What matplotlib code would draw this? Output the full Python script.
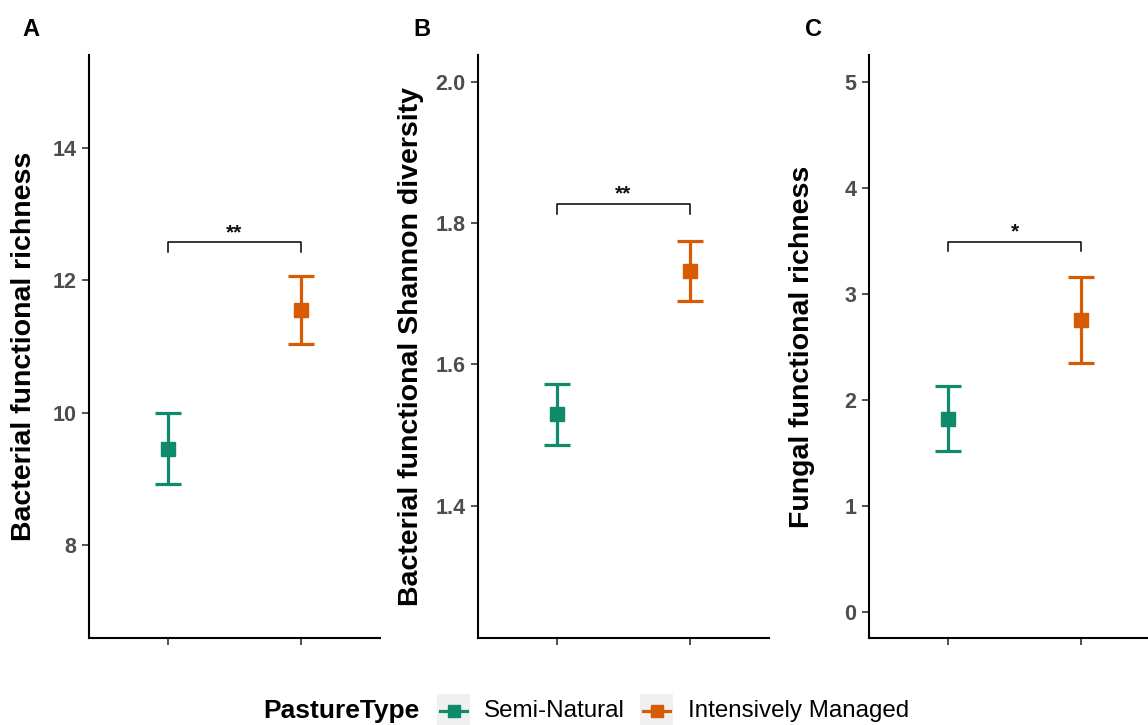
import matplotlib
matplotlib.use("Agg")
import matplotlib.pyplot as plt
from matplotlib.lines import Line2D
from matplotlib.patches import Rectangle

plt.rcParams['font.family'] = ['Liberation Sans', 'DejaVu Sans']

# ---------------- data ----------------
categories = ["Semi-Natural", "Intensively Managed"]
colors = ["#0F8B6B", "#D65B02"]

panel_letters = ["A", "B", "C"]
ylabels = ["Bacterial functional richness",
           "Bacterial functional Shannon diversity",
           "Fungal functional richness"]

a_mean = [9.46, 11.55]
a_low = [8.93, 11.04]
a_high = [9.99, 12.06]

b_mean = [1.529, 1.732]
b_low = [1.486, 1.690]
b_high = [1.572, 1.775]

c_mean = [1.82, 2.75]
c_low = [1.51, 2.34]
c_high = [2.13, 3.16]

a_ticks = [8, 10, 12, 14]
b_ticks = [1.4, 1.6, 1.8, 2.0]
c_ticks = [0, 1, 2, 3, 4, 5]
a_ticklabels = ["8", "10", "12", "14"]
b_ticklabels = ["1.4", "1.6", "1.8", "2.0"]
c_ticklabels = ["0", "1", "2", "3", "4", "5"]

a_lim = [7, 15]
b_lim = [1.25, 2.0]
c_lim = [0, 5]

sig_labels = ["**", "**", "*"]
sig_y = [12.57, 1.827, 3.49]
sig_tip = [12.42, 1.813, 3.40]

# ---------------- figure ----------------
W, H = 1148, 725
fig = plt.figure(figsize=(W / 100, H / 100), dpi=100)

panels = [
    (a_mean, a_low, a_high, a_ticks, a_ticklabels, a_lim),
    (b_mean, b_low, b_high, b_ticks, b_ticklabels, b_lim),
    (c_mean, c_low, c_high, c_ticks, c_ticklabels, c_lim),
]
lefts = [89, 478, 869]
pw = 291
top, bottom = 55, 638
letter_x = [31, 422, 813]
label_x = [-0.177, -0.187, -0.185]

x = [1, 2]
for i, (mean, low, high, ticks, tlabels, lim) in enumerate(panels):
    ax = fig.add_axes([lefts[i] / W, (H - bottom) / H, pw / W, (bottom - top) / H])
    span = lim[1] - lim[0]
    ax.set_ylim(lim[0] - 0.05 * span, lim[1] + 0.05 * span)
    ax.set_xlim(0.4, 2.6)
    for j in range(2):
        err_lo = mean[j] - low[j]
        err_hi = high[j] - mean[j]
        ax.errorbar(x[j], mean[j], yerr=[[err_lo], [err_hi]], color=colors[j],
                    elinewidth=2.3, capsize=9.5, capthick=2.3, fmt='none', zorder=2)
        ax.plot(x[j], mean[j], marker='s', markersize=10.5, color=colors[j],
                linestyle='none', zorder=3)
    # significance bracket
    ax.plot([1, 1, 2, 2], [sig_tip[i], sig_y[i], sig_y[i], sig_tip[i]],
            color='black', linewidth=1.1)
    ax.text(1.5, sig_y[i], sig_labels[i], ha='center', va='bottom',
            fontsize=15, fontweight='bold', color='#111111')
    ax.set_yticks(ticks)
    ax.set_yticklabels(tlabels, fontsize=15.5, fontweight='bold', color='#4D4D4D')
    ax.set_xticks(x)
    ax.set_xticklabels([])
    ax.tick_params(axis='both', length=5, width=1.2, color='#333333', pad=4)
    for s in ['top', 'right']:
        ax.spines[s].set_visible(False)
    for s in ['left', 'bottom']:
        ax.spines[s].set_linewidth(1.5)
    ax.set_ylabel(ylabels[i], fontsize=20.5, fontweight='bold', color='black')
    ax.yaxis.set_label_coords(label_x[i], 0.5)
    fig.text(letter_x[i] / W, 1 - 29 / H, panel_letters[i], fontsize=17,
             fontweight='bold', ha='center', va='center')

# ---------------- legend (bottom) ----------------
ly = 1 - 711 / H
fig.text(263 / W, ly, "PastureType", fontsize=19, fontweight='bold',
         ha='left', va='center')
key_x = [437, 640]
text_x = [484, 688]
for j in range(2):
    kx = key_x[j]
    fig.patches.append(Rectangle((kx / W, (H - 727) / H), 33 / W, 33 / H,
                                 transform=fig.transFigure, facecolor='#EBEBEB',
                                 edgecolor='none', alpha=0.7))
    fig.lines.append(Line2D([(kx + 3) / W, (kx + 30) / W], [ly, ly],
                            transform=fig.transFigure, color=colors[j], linewidth=2.3))
    fig.lines.append(Line2D([(kx + 16.5) / W], [ly], transform=fig.transFigure,
                            marker='s', markersize=9, color=colors[j]))
    fig.text(text_x[j] / W, ly, categories[j], fontsize=17.4, ha='left', va='center')

fig.savefig("out.png", dpi=100, facecolor='white')
